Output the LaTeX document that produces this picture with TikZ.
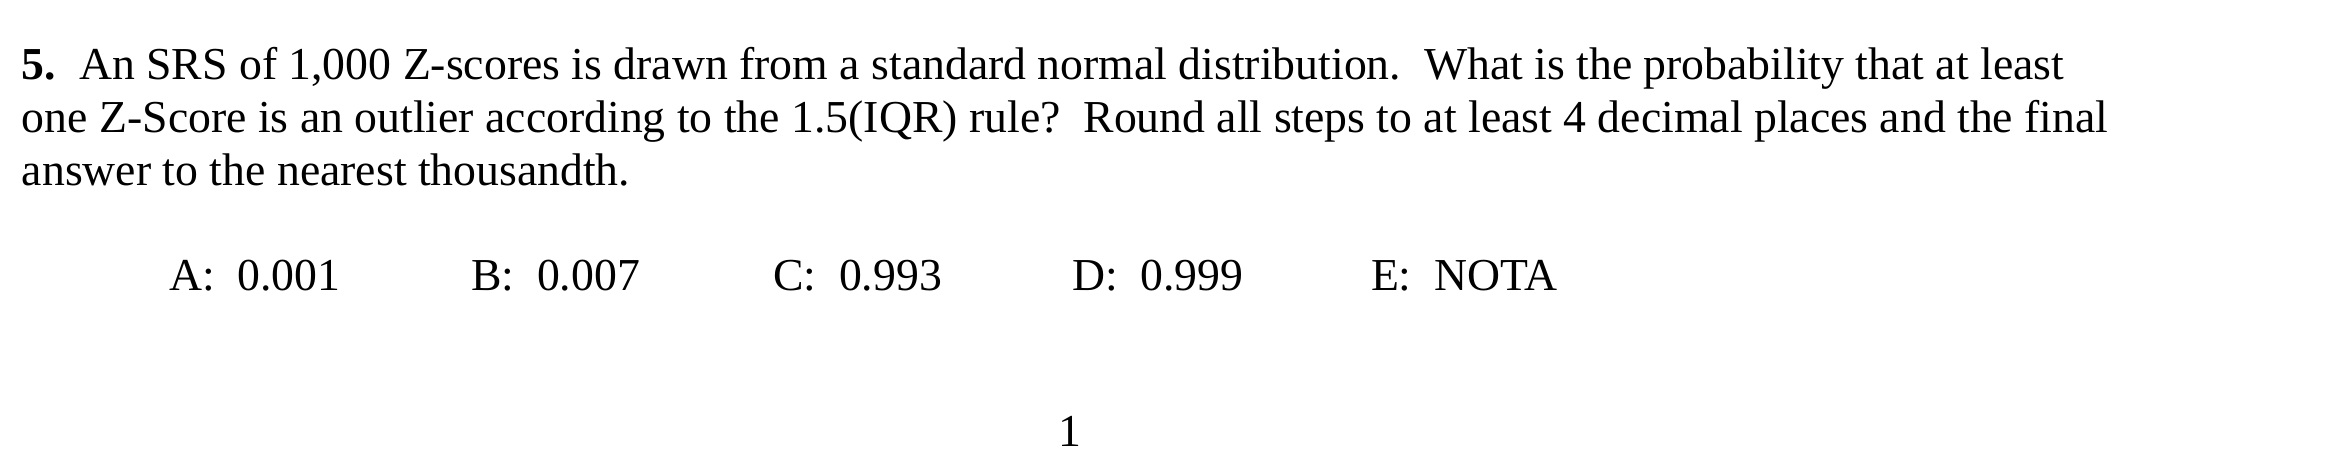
\documentclass[tikz,border=0pt]{standalone}
\usepackage{fontspec}
\setmainfont{Liberation Serif}
\begin{document}
\begin{tikzpicture}[x=0.2817pt,y=-0.2817pt,
  txt/.style={anchor=base west,inner sep=0pt,outer sep=0pt,font=\fontsize{12.88}{15}\selectfont}]
\useasboundingbox (0,0) rectangle (2344,455);
% question
\node[txt] (line1) at (22,80) {\textbf{5.}\ \ An SRS of 1,000 Z-scores is drawn from a standard normal distribution.\ \ What is the probability that at least};
\node[txt] (line2) at (22,133) {one Z-Score is an outlier according to the 1.5(IQR) rule?\ \ Round all steps to at least 4 decimal places and the final};
\node[txt] (line3) at (22,186) {answer to the nearest thousandth.};
% choices
\foreach \x/\t [count=\i] in {169/A:\ \ 0.001, 471/B:\ \ 0.007, 773/C:\ \ 0.993, 1072/D:\ \ 0.999, 1371/E:\ \ NOTA}
  \node[txt] (choice\i) at (\x,291) {\t};
% page number
\node[txt] (page) at (1058,446) {1};
\end{tikzpicture}
\end{document}
